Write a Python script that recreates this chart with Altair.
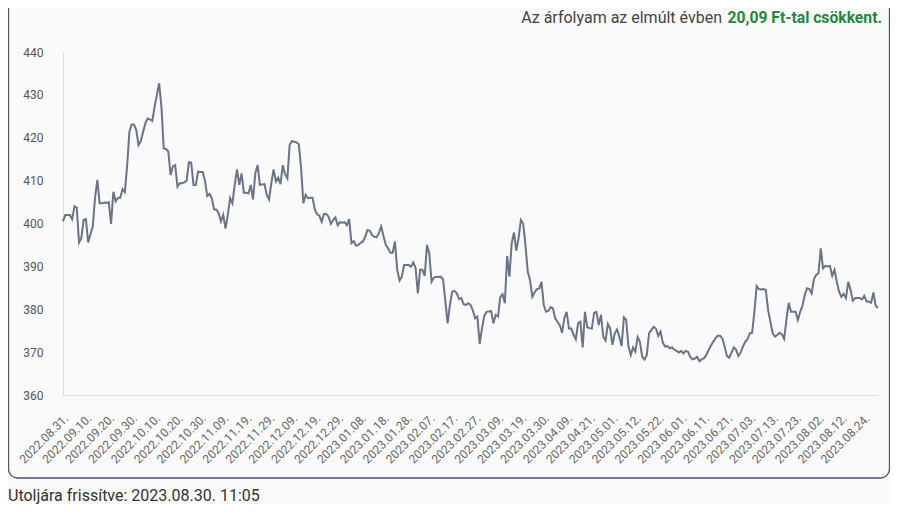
import altair as alt
import pandas as pd

tick_labels = [
    "2022.08.31.", "2022.09.10.", "2022.09.20.", "2022.09.30.", "2022.10.10.",
    "2022.10.20.", "2022.10.30.", "2022.11.09.", "2022.11.19.", "2022.11.29.",
    "2022.12.09.", "2022.12.19.", "2022.12.29.", "2023.01.08.", "2023.01.18.",
    "2023.01.28.", "2023.02.07.", "2023.02.17.", "2023.02.27.", "2023.03.09.",
    "2023.03.19.", "2023.03.30.", "2023.04.09.", "2023.04.21.", "2023.05.01.",
    "2023.05.12.", "2023.05.22.", "2023.06.01.", "2023.06.11.", "2023.06.21.",
    "2023.07.03.", "2023.07.13.", "2023.07.23.", "2023.08.02.", "2023.08.12.",
    "2023.08.24.",
]

rates_part1 = [400.5, 402, 402, 402, 401, 404, 403.7, 395.6, 396.6, 400.8, 401, 395.6,
               397.5, 399.3, 406, 410.2, 404.7, 404.7, 404.9, 404.8, 405, 399.9, 407.4,
               405.2, 406, 406, 408, 407.3, 413.3, 421.4, 423.1, 423.1, 421.8, 418.3,
               419.2, 421.4, 423.4, 424.5, 424.3, 423.9, 427.2, 430, 432.7, 427.2, 417.5,
               417.4, 416.8, 411.3, 413.3, 413.6, 408.6, 409.4, 409.4, 409.6]
rates_part2 = [410, 414.3, 414.2, 409, 409, 412.1, 412, 412, 410.1, 406.4, 406.9, 405.9,
               403.3, 403.2, 402.4, 400.5, 402, 398.8, 402, 405.9, 404.7, 409, 412.6, 409,
               411.7, 407.2, 407.2, 407, 409, 405.6, 411.7, 413.6, 409, 409.1]
rates_part3 = [409.2, 406.7, 405.6, 409.4, 412.6, 409.8, 410.7, 409.2, 413.6, 411.5, 410.5,
               418.3, 419.2, 419.1, 418.9, 418.5, 412.9, 404.7, 406.7, 405.9, 406, 406,
               403.2, 402.2, 401.8, 400.4, 402.2, 402.2, 401.6, 399.9, 400.8, 401.4, 399.6,
               400.3, 400.2]
rates_part4 = [400.3, 399.6, 401, 395.4, 395.9, 394.8, 395, 395.5, 395.8, 396.9, 398.5,
               398.3, 397.3, 396.9, 396.8, 397.8, 399.3, 397.1, 395, 394.2, 393.2, 393.2,
               395.8, 389.2, 386.7, 387.6, 390.3, 390.3, 390.3, 389.9, 390.9, 389.7, 383.7,
               389.2, 389.2, 387.8, 395, 393, 386.4, 387.4, 387.6, 387.5]
rates_part5 = [387.6, 387, 382, 376.7, 381, 384.1, 384.3, 383.7, 382.4, 382.6, 381.2, 381,
               381.4, 381, 379.8, 377.9, 378.3, 371.9, 375.5, 378.4, 379.4, 379.5]
rates_part6 = [379.6, 376.7, 378.7, 378.3, 382.8, 383.5, 381.4, 392.4, 387.6, 395.4, 397.9,
               393.7, 396.6, 400.8, 400, 395, 388.8, 386.8, 382.9, 383.9, 384.7, 384.8,
               386.4, 381, 379.4, 379.6, 380.5, 380.2, 377.9, 377.1, 376.3, 374.5, 378,
               379.4, 375.5, 375.5, 374.1, 373, 376.7, 377.1, 371.1, 379.4, 375.8, 375.6]
rates_part7 = [375.5, 379.2, 379.4, 376.3, 378.7, 373.6, 372.7, 376.6, 375.5, 371.7, 374.4,
               375.3, 373.6, 371.4, 378.1, 377.5, 371.3, 369.3, 371.1, 370.1, 373.5, 372.4,
               368.9, 368.3, 369.3, 374.4, 375.2, 375.9, 375.5, 373.8, 374.8, 372.2, 371.3,
               371.4, 370.9, 371.1, 370.6]
rates_part8 = [370.3, 369.9, 370.3, 369.7, 370.3, 370.1, 368.9, 368.3, 368.5, 368.9, 367.9,
               368.3, 368.6, 369.3, 370.5, 371.5, 372.4, 373.2, 373.8, 373.8, 373.2, 371.3,
               369.1, 368.7, 369.9, 371.1, 370.6, 369.1, 369.9, 371.3, 372.4, 373, 374.4,
               374.5, 379.4, 385.4, 384.7, 384.6]
rates_part9 = [384.7, 384.5, 379.8, 377.1, 374.4, 373.6, 374, 374.5, 374.2, 373.1, 377.5,
               381.5, 379.4, 379.4, 379.4, 377.5, 379.4, 380.8, 383.3, 384.9, 384.7, 383.7,
               387, 388, 388.4, 394.2, 389.5, 390.1, 390]
rates_part10 = [390.1, 387.8, 389.2, 386.4, 384.1, 382.9, 383.6, 382.6, 386.4, 384.5, 382,
                382.6, 382.6, 382.6, 382.3, 383.1, 381.8, 381.8, 381.5, 383.9, 380.8, 380.3]

rates = (rates_part1 + rates_part2 + rates_part3 + rates_part4 + rates_part5 +
         rates_part6 + rates_part7 + rates_part8 + rates_part9 + rates_part10)
N = len(rates)
df = pd.DataFrame({"i": list(range(N)), "rate": rates})

label_js = "[" + ",".join("'%s'" % s for s in tick_labels) + "]"
label_expr = label_js + "[round(datum.value / 10)]"

FONT = "Roboto"

x = alt.X(
    "i:Q",
    scale=alt.Scale(domain=[0, N - 1], nice=False, zero=False),
    axis=alt.Axis(
        values=list(range(0, 10 * len(tick_labels), 10)),
        labelExpr=label_expr,
        labelAngle=-45,
        labelAlign="right",
        labelBaseline="middle",
        labelPadding=21,
        labelOffset=3,
        labelFontSize=12,
        labelColor="#666666",
        labelFont=FONT,
        labelOverlap=False,
        labelFlush=False,
        labelBound=False,
        ticks=False,
        grid=False,
        domainColor="#dddddd",
        title=None,
    ),
)
y = alt.Y(
    "rate:Q",
    scale=alt.Scale(domain=[360, 440], nice=False, zero=False),
    axis=alt.Axis(
        values=list(range(360, 441, 10)),
        ticks=False,
        grid=False,
        domainColor="#dddddd",
        labelPadding=20,
        labelFontSize=12,
        labelColor="#555555",
        labelFont=FONT,
        title=None,
    ),
)

line = alt.Chart(df).mark_line(color="#697389", strokeWidth=2).encode(x=x, y=y)

one = pd.DataFrame({"k": [0]})

box = alt.Chart(one).mark_rect(
    fill="transparent", stroke="#4a5272", strokeWidth=1.3, cornerRadius=9
).encode(
    x=alt.value(-54.5), x2=alt.value(826.5), y=alt.value(-70), y2=alt.value(426)
)

t_gray = alt.Chart(one).mark_text(
    text="Az árfolyam az elmúlt évben", align="right", baseline="alphabetic",
    font=FONT, fontSize=16, color="#444444"
).encode(x=alt.value(659), y=alt.value(-29))

t_green = alt.Chart(one).mark_text(
    text="20,09 Ft-tal csökkent.", align="right", baseline="alphabetic",
    font=FONT, fontSize=15.7, fontWeight="bold", color="#23883c"
).encode(x=alt.value(819), y=alt.value(-29))

foot = alt.Chart(one).mark_text(
    text="Utoljára frissítve: 2023.08.30. 11:05", align="left", baseline="alphabetic",
    font=FONT, fontSize=16, color="#333333"
).encode(x=alt.value(-55), y=alt.value(449))

chart = alt.layer(box, line, t_gray, t_green, foot).properties(
    width=815,
    height=343,
    autosize=alt.AutoSizeParams(type="none"),
    padding={"left": 55, "top": 44, "right": 12, "bottom": 109},
    background="#fafafa",
).configure_view(strokeWidth=0)

chart.save("out.html", embed_options={"renderer": "svg", "actions": False})
